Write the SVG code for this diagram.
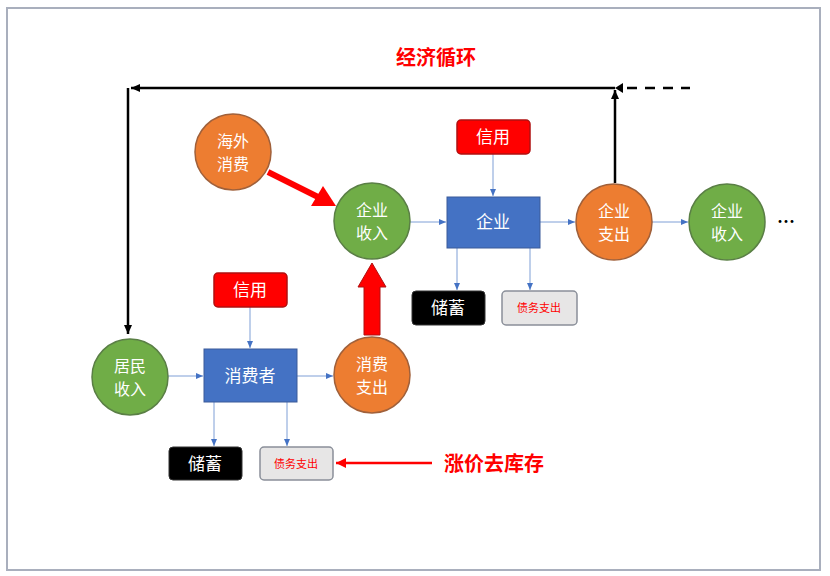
<svg xmlns="http://www.w3.org/2000/svg" width="830" height="576" viewBox="0 0 830 576">
<defs>
<style>
text{font-family:"Noto Sans CJK SC","Noto Sans",sans-serif;}
.gc{fill:#70AD47;stroke:#5a7f45;stroke-width:1.5}
.oc{fill:#ED7D31;stroke:#a0603a;stroke-width:1.5}
.ct{fill:#fff;font-size:16px;text-anchor:middle}
.blue{fill:#4472C4;stroke:#3a5a99;stroke-width:1}
.red{fill:#FF0000;stroke:#b01010;stroke-width:1.5}
.blk{fill:#000;stroke:#333;stroke-width:1}
.gry{fill:#E7E6E6;stroke:#8a8f99;stroke-width:1.5}
.bt{fill:#fff;font-size:17px;text-anchor:middle}
.dt{fill:#FF0000;font-size:11px;text-anchor:middle}
.thin{stroke:#7f9fd6;stroke-width:1;fill:none;marker-end:url(#ba)}
.blkl{stroke:#000;stroke-width:2.5;fill:none}
</style>
<marker id="ba" markerWidth="8" markerHeight="8" refX="7" refY="4" orient="auto" markerUnits="userSpaceOnUse"><path d="M0,1 L7,4 L0,7 z" fill="#4472C4"/></marker>
<marker id="ka" markerWidth="10" markerHeight="10" refX="9" refY="5" orient="auto" markerUnits="userSpaceOnUse"><path d="M0,1 L9,5 L0,9 z" fill="#000"/></marker>
<marker id="ra" markerWidth="12" markerHeight="12" refX="10" refY="6" orient="auto" markerUnits="userSpaceOnUse"><path d="M0,1 L10,6 L0,11 z" fill="#FF0000"/></marker>
</defs>
<rect x="7" y="8" width="813" height="562" fill="#fff" stroke="#a9afbd" stroke-width="2"/>
<text x="436" y="65" font-size="20" font-weight="bold" fill="#FF0000" text-anchor="middle">经济循环</text>
<g id="connectors">
<path class="blkl" d="M615,183 L615,90" marker-end="url(#ka)"/>
<path class="blkl" d="M615,88 L131,88" marker-end="url(#ka)"/>
<path class="blkl" d="M128,88 L128,334" marker-end="url(#ka)"/>
<path d="M627,88 L690,88" stroke="#000" stroke-width="2.5" stroke-dasharray="10,8"/>
<path d="M623,83 L615,88 L623,93 z" fill="#000"/>
<path d="M268,172 L322,199" stroke="#FF0000" stroke-width="6"/>
<path d="M336,206 L311,206 L323,186 z" fill="#FF0000"/>
<path d="M364,335 L364,287 L358,287 L372,263 L386,287 L380,287 L380,335 z" fill="#FF0000" stroke="#b01010" stroke-width="1"/>
<path class="thin" d="M493,154 L493,196"/>
<path class="thin" d="M410,222 L446,222"/>
<path class="thin" d="M540,222 L575,222"/>
<path class="thin" d="M652,222 L688,222"/>
<path class="thin" d="M457,248 L457,290"/>
<path class="thin" d="M530,248 L530,290"/>
<path class="thin" d="M250,307 L250,348"/>
<path class="thin" d="M168,376 L203,376"/>
<path class="thin" d="M297,376 L333,376"/>
<path class="thin" d="M214,402 L214,446"/>
<path class="thin" d="M287,402 L287,446"/>
<path d="M432,463 L336,463" stroke="#FF0000" stroke-width="2.5" marker-end="url(#ra)"/>
</g>
<g id="haiwai"><circle class="oc" cx="233" cy="152" r="38"/><text class="ct" x="233" y="147">海外</text><text class="ct" x="233" y="170">消费</text></g>
<g id="qiyeshouru1"><circle class="gc" cx="372" cy="221" r="38"/><text class="ct" x="372" y="216">企业</text><text class="ct" x="372" y="239">收入</text></g>
<g id="xinyong1"><rect class="red" x="457" y="120" width="73" height="34" rx="4"/><text class="bt" x="493" y="143">信用</text></g>
<g id="qiye"><rect class="blue" x="447" y="197" width="93" height="51"/><text class="bt" x="493" y="228">企业</text></g>
<g id="qiyezhichu"><circle class="oc" cx="614" cy="222" r="38"/><text class="ct" x="614" y="217">企业</text><text class="ct" x="614" y="240">支出</text></g>
<g id="qiyeshouru2"><circle class="gc" cx="727" cy="222" r="38"/><text class="ct" x="727" y="217">企业</text><text class="ct" x="727" y="240">收入</text></g>
<text x="786" y="228" font-size="18" font-weight="bold" fill="#000" text-anchor="middle">…</text>
<g id="chuxu1"><rect class="blk" x="412" y="291" width="73" height="34" rx="4"/><text class="bt" x="448" y="314">储蓄</text></g>
<g id="zhaiwu1"><rect class="gry" x="502" y="291" width="75" height="34" rx="4"/><text class="dt" x="539" y="312">债务支出</text></g>
<g id="xinyong2"><rect class="red" x="214" y="273" width="73" height="34" rx="4"/><text class="bt" x="250" y="296">信用</text></g>
<g id="xiaofeizhe"><rect class="blue" x="204" y="349" width="93" height="53"/><text class="bt" x="250" y="382">消费者</text></g>
<g id="jumin"><circle class="gc" cx="130" cy="377" r="38"/><text class="ct" x="130" y="372">居民</text><text class="ct" x="130" y="395">收入</text></g>
<g id="xiaofeizhichu"><circle class="oc" cx="372" cy="375" r="38"/><text class="ct" x="372" y="370">消费</text><text class="ct" x="372" y="393">支出</text></g>
<g id="chuxu2"><rect class="blk" x="169" y="447" width="73" height="33" rx="4"/><text class="bt" x="205" y="470">储蓄</text></g>
<g id="zhaiwu2"><rect class="gry" x="260" y="447" width="73" height="33" rx="4"/><text class="dt" x="296" y="468">债务支出</text></g>
<text x="494" y="471" font-size="20" font-weight="bold" fill="#FF0000" text-anchor="middle">涨价去库存</text>
</svg>
